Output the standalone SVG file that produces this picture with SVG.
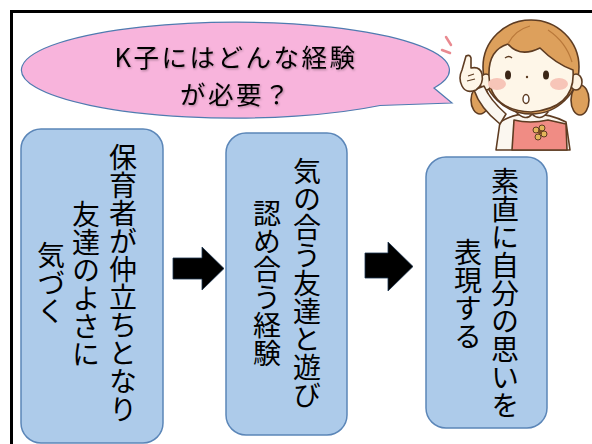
<svg xmlns="http://www.w3.org/2000/svg" width="592" height="444" viewBox="0 0 592 444">
  <defs>
    <style>
      .frame { fill: none; stroke: #000; stroke-width: 3; }
      .box { fill: #adcbea; stroke: #5b86b8; stroke-width: 1.5; }
      .vtext { font-family: "Noto Sans CJK JP", "Noto Sans CJK SC", sans-serif; font-size: 28px; fill: #000;
               writing-mode: vertical-rl; text-anchor: middle; }
      .title { font-family: "Noto Sans CJK JP", "Noto Sans CJK SC", sans-serif; font-size: 25.5px; fill: #000;
               text-anchor: middle; letter-spacing: 2.5px; }
      .arrow { fill: #000; stroke: #1d3652; stroke-width: 0.8; }
      .ln { stroke: #5e3c22; stroke-width: 1.6; stroke-linejoin: round; stroke-linecap: round; }
    </style>
    <filter id="softShadow" x="-5%" y="-20%" width="110%" height="140%">
      <feDropShadow dx="1" dy="1.2" stdDeviation="0.8" flood-color="#000" flood-opacity="0.3"/>
    </filter>
  </defs>

  <rect width="592" height="444" fill="#fff"/>

  <!-- open frame: left and top edges only -->
  <path class="frame" d="M11.5,444 L11.5,11.5 L592,11.5"/>

  <!-- speech bubble with tail pointing right -->
  <g id="bubble">
    <path d="M452,103 L380,105.5 A214,48 0 1 1 434,88 Z" fill="#f8b4dc" stroke="#4f7bb0" stroke-width="1.2"/>
    <g filter="url(#softShadow)">
      <text class="title" x="236" y="66.5">K子にはどんな経験</text>
      <text class="title" x="236" y="103.5">が必要？</text>
    </g>
  </g>

  <!-- pointing girl -->
  <g id="girl">
    <!-- excitement marks -->
    <path d="M446,37 L451,45 M442,50 L450,53" stroke="#e98a90" stroke-width="2.5" stroke-linecap="round" fill="none"/>
    <!-- pigtails -->
    <ellipse class="ln" cx="480" cy="100" rx="9" ry="14" fill="#dda05c"/>
    <ellipse class="ln" cx="580" cy="100" rx="9" ry="15" fill="#dda05c"/>
    <!-- shirt and apron -->
    <path class="ln" d="M496,150 L500,122 Q515,113 530,114 Q548,113 566,122 L570,150 Z" fill="#fbf7f0"/>
    <path class="ln" d="M512,150 L514,120 Q530,124 548,120 L566,124 L567,150 Z" fill="#f08c84"/>
    <!-- collar -->
    <path class="ln" d="M516,112 Q526,122 532,114 Q540,122 548,112" fill="#fff"/>
    <!-- brooch -->
    <g>
      <circle cx="536" cy="130" r="3" fill="#e3b65a" stroke="#5e3c22" stroke-width="1"/>
      <circle cx="542" cy="128" r="3" fill="#e3b65a" stroke="#5e3c22" stroke-width="1"/>
      <circle cx="544" cy="134" r="3" fill="#e3b65a" stroke="#5e3c22" stroke-width="1"/>
      <circle cx="538" cy="137" r="3" fill="#e3b65a" stroke="#5e3c22" stroke-width="1"/>
      <circle cx="540" cy="132" r="2.2" fill="#7a4a22"/>
    </g>
    <!-- hair mass -->
    <ellipse class="ln" cx="531" cy="67" rx="48" ry="47" fill="#dda05c"/>
    <!-- ears -->
    <ellipse class="ln" cx="486" cy="82" rx="6" ry="8" fill="#fdf2e1"/>
    <ellipse class="ln" cx="576" cy="82" rx="6" ry="8" fill="#fdf2e1"/>
    <!-- face with swept bangs -->
    <path class="ln" d="M489,76 Q488,50 508,44 Q520,58 540,48 Q556,64 573,70 Q576,108 531,112 Q490,110 489,76 Z" fill="#fef6e8"/>
    <path d="M548,30 Q566,42 572,62" stroke="#b9783a" stroke-width="1.2" fill="none"/>
    <path d="M508,44 Q515,30 530,26" stroke="#b9783a" stroke-width="1.2" fill="none"/>
    <!-- blush -->
    <ellipse cx="497" cy="84" rx="9" ry="6" fill="#f7c5b8"/>
    <ellipse cx="559" cy="84" rx="9" ry="6" fill="#f7c5b8"/>
    <!-- eyebrows -->
    <path d="M505,58 Q509,55 512,58" stroke="#5e3c22" stroke-width="1.4" fill="none"/>
    <!-- eyes -->
    <ellipse cx="508" cy="75" rx="3" ry="4.5" fill="#3b2616"/>
    <ellipse cx="546" cy="75" rx="3" ry="4.5" fill="#3b2616"/>
    <circle cx="527" cy="77" r="1.2" fill="#5e3c22"/>
    <!-- mouth -->
    <ellipse cx="526" cy="99" rx="3" ry="4.5" fill="#fff" stroke="#5e3c22" stroke-width="1.4"/>
    <!-- raised arm and pointing hand -->
    <path class="ln" d="M474,90 Q480,108 500,124 L506,114 Q490,100 484,86 Z" fill="#fbf7f0"/>
    <path class="ln" d="M466,56 Q470,54 471,58 L471,68 Q480,66 482,74 Q484,84 476,90 Q466,94 462,86 Q458,78 462,70 Z" fill="#fef6e8"/>
    <path d="M468,76 L474,74 M467,81 L475,79" stroke="#5e3c22" stroke-width="1.2" fill="none"/>
  </g>

  <!-- flow steps -->
  <g id="box1">
    <rect class="box" x="21" y="129" width="142" height="314" rx="20"/>
    <text class="vtext" x="123" y="283">保育者が仲立ちとなり</text>
    <text class="vtext" x="86" y="284">友達のよさに</text>
    <text class="vtext" x="51" y="283">気づく</text>
  </g>

  <g id="box2">
    <rect class="box" x="226" y="133" width="121" height="302" rx="20"/>
    <text class="vtext" x="307" y="283">気の合う友達と遊び</text>
    <text class="vtext" x="267" y="283">認め合う経験</text>
  </g>

  <g id="box3">
    <rect class="box" x="426" y="157" width="121" height="271" rx="20"/>
    <text class="vtext" x="505" y="293">素直に自分の思いを</text>
    <text class="vtext" x="468" y="294">表現する</text>
  </g>

  <!-- block arrows between steps -->
  <g id="connectors">
    <path class="arrow" d="M173,258 L202,258 L202,247 L224,268.5 L202,290 L202,279 L173,279 Z"/>
    <path class="arrow" d="M365,253 L388,253 L388,242 L413,266.5 L388,291 L388,278 L365,278 Z"/>
  </g>
</svg>
